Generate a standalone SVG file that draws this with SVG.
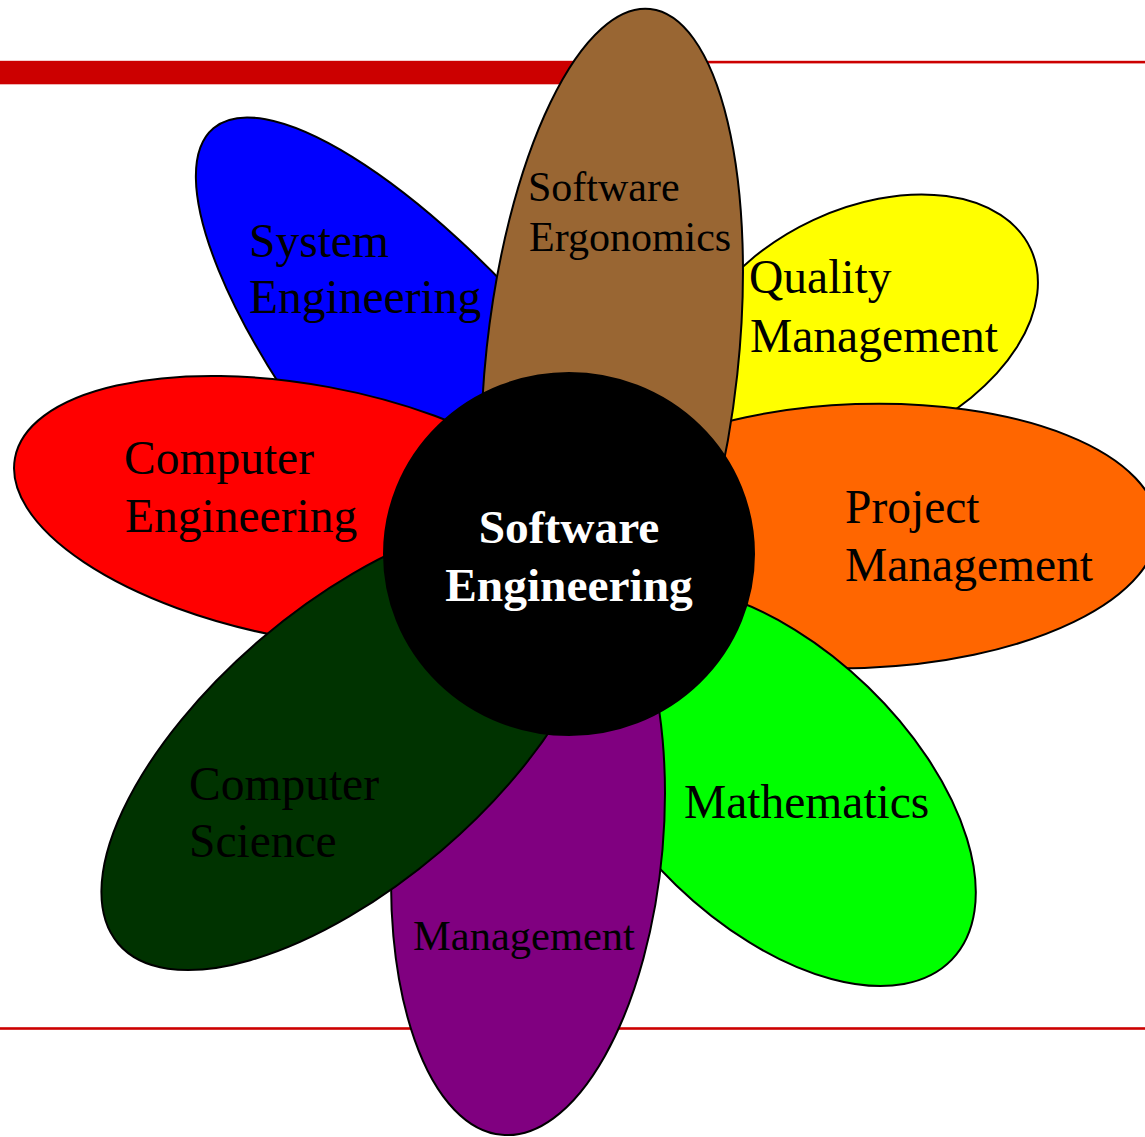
<svg xmlns="http://www.w3.org/2000/svg" width="1145" height="1137" viewBox="0 0 1145 1137">
<style>
.petal{stroke:#000;stroke-width:2}
.lbl{font-family:"Liberation Serif","Times New Roman",serif;font-size:47.5px;fill:#000}
.sm{font-size:42.5px}
.ctr{font-family:"Liberation Serif","Times New Roman",serif;font-size:47.4px;font-weight:bold;fill:#fff;text-anchor:middle}
</style>
<rect width="1145" height="1137" fill="#fff"/>
<g id="rules" fill="#CC0000">
<rect x="0" y="60.8" width="1145" height="2.6"/>
<rect x="0" y="61" width="600" height="23.3"/>
<rect x="0" y="1027.2" width="1145" height="2.6"/>
</g>
<g id="connectors"/>
<g id="system-engineering">
<ellipse class="petal" cx="460" cy="420" rx="382" ry="124" transform="rotate(49.8 460 420)" fill="#0000FF"/>
<text class="lbl"><tspan x="249" y="257">System</tspan><tspan x="249" y="313">Engineering</tspan></text>
</g>
<g id="quality-management">
<ellipse class="petal" cx="863" cy="327" rx="185" ry="118" transform="rotate(-25 863 327)" fill="#FFFF00"/>
<text class="lbl"><tspan x="749" y="293">Quality</tspan><tspan x="750" y="351.5">Management</tspan></text>
</g>
<g id="project-management">
<ellipse class="petal" cx="860" cy="536" rx="298" ry="132" transform="rotate(-2 860 536)" fill="#FF6600"/>
<text class="lbl"><tspan x="845" y="523">Project</tspan><tspan x="845" y="580.5">Management</tspan></text>
</g>
<g id="mathematics">
<ellipse class="petal" cx="772" cy="786" rx="250" ry="138" transform="rotate(44 772 786)" fill="#00FF00"/>
<text class="lbl" x="684" y="818">Mathematics</text>
</g>
<g id="management">
<ellipse class="petal" cx="528" cy="838" rx="135" ry="298" transform="rotate(5 528 838)" fill="#800080"/>
<text class="lbl sm" x="413" y="950">Management</text>
</g>
<g id="computer-engineering">
<ellipse class="petal" cx="306" cy="512" rx="296" ry="127" transform="rotate(10.5 306 512)" fill="#FF0000"/>
<text class="lbl"><tspan x="124" y="474">Computer</tspan><tspan x="125" y="531.5">Engineering</tspan></text>
</g>
<g id="computer-science">
<ellipse class="petal" cx="351" cy="745" rx="306" ry="139" transform="rotate(-40.5 351 745)" fill="#003300"/>
<text class="lbl"><tspan x="189" y="800">Computer</tspan><tspan x="189" y="856.5">Science</tspan></text>
</g>
<g id="software-ergonomics">
<ellipse class="petal" cx="612" cy="361" rx="126" ry="354" transform="rotate(6.2 612 361)" fill="#996633"/>
<text class="lbl sm" style="font-size:42px"><tspan x="528" y="201">Software</tspan><tspan x="529" y="251">Ergonomics</tspan></text>
</g>
<g id="software-engineering">
<ellipse cx="569" cy="554" rx="185" ry="181" fill="#000" stroke="#000" stroke-width="2"/>
<text class="ctr"><tspan x="569" y="543">Software</tspan><tspan x="569" y="600.5">Engineering</tspan></text>
</g>
</svg>
